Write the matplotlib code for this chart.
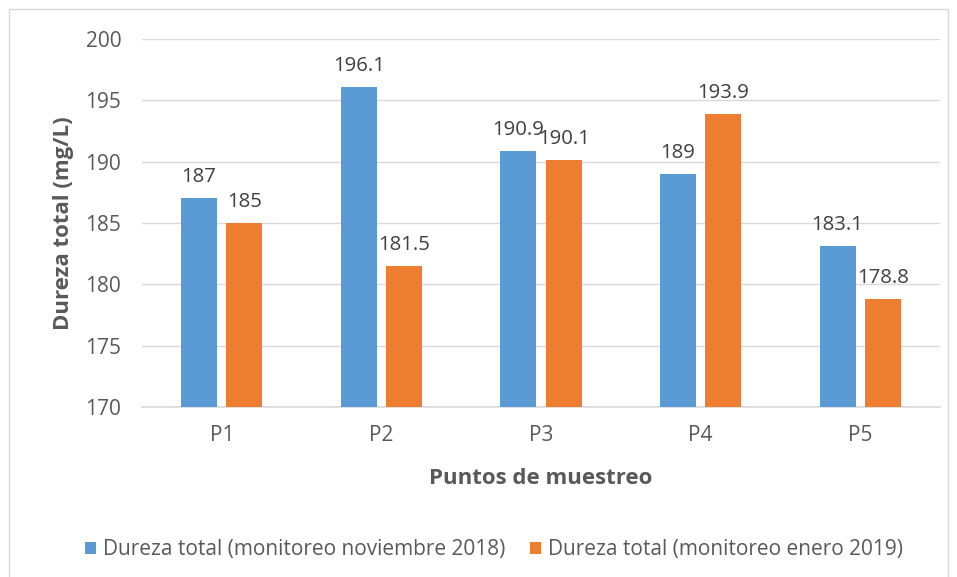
import matplotlib.pyplot as plt
import numpy as np
from matplotlib.patches import Rectangle

plt.rcParams['font.family'] = ['Open Sans', 'DejaVu Sans']

# Data
puntos = ["P1", "P2", "P3", "P4", "P5"]
nov_2018 = [187, 196.1, 190.9, 189, 183.1]
ene_2019 = [185, 181.5, 190.1, 193.9, 178.8]

blue = "#5b9bd5"
orange = "#ed7d31"
gray = "#595959"

fig = plt.figure(figsize=(9.57, 5.77), dpi=100)
ax = fig.add_axes([142 / 957, 1 - 407 / 577, (940 - 142) / 957, (407 - 39) / 577])

x = np.arange(len(puntos))
w = 0.226
off = 0.142
b1 = ax.bar(x - off, nov_2018, w, color=blue, label="Dureza total (monitoreo noviembre 2018)", zorder=3)
b2 = ax.bar(x + off, ene_2019, w, color=orange, label="Dureza total (monitoreo enero 2019)", zorder=3)

for bars, vals in [(b1, nov_2018), (b2, ene_2019)]:
    for b, v in zip(bars, vals):
        ax.annotate(f"{v:g}", (b.get_x() + b.get_width() / 2, v), xytext=(0, 8),
                    textcoords="offset points", ha="center", va="bottom",
                    fontsize=14.7, color="#404040")

ax.set_ylim(170, 200)
ax.set_xlim(-0.5, 4.5)
ax.set_yticks(range(170, 201, 5))
ax.set_xticks(x)
ax.set_xticklabels(puntos)
ax.tick_params(length=0, labelsize=15, colors=gray, pad=13)
ax.tick_params(axis="y", pad=15)
ax.grid(axis="y", color="#d9d9d9", linewidth=1, zorder=0)
for s in ["top", "right", "left"]:
    ax.spines[s].set_visible(False)
ax.spines["bottom"].set_color("#d9d9d9")
ax.spines["bottom"].set_linewidth(1.2)

ax.set_ylabel("Dureza total (mg/L)", fontsize=16, fontweight="bold", color=gray, labelpad=8)
ax.set_xlabel("Puntos de muestreo", fontsize=16, fontweight="bold", color=gray, labelpad=16)

fig.legend(loc="center", bbox_to_anchor=(0.516, 1 - 550 / 577), ncol=2, frameon=False,
           fontsize=15, labelcolor=gray, handlelength=0.55, handleheight=0.55,
           handletextpad=0.3, columnspacing=1.2)

fig.patches.append(Rectangle((9 / 957, -0.01), (948 - 9) / 957, 1 - 9 / 577 + 0.01,
                             transform=fig.transFigure, fill=False,
                             edgecolor="#d9d9d9", linewidth=1))

fig.savefig("out.png", dpi=100)
